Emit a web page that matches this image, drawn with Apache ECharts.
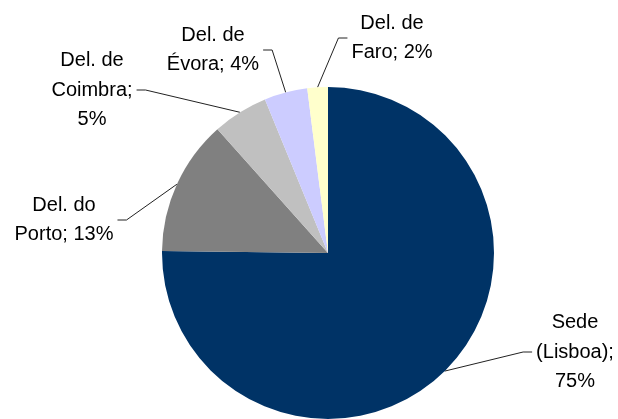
<!DOCTYPE html>
<html>
<head>
<meta charset="utf-8">
<script src="https://cdn.jsdelivr.net/npm/echarts@6/dist/echarts.min.js"></script>
<style>
  html, body { margin: 0; padding: 0; background: #fff; }
  #chart { width: 618px; height: 419px; }
</style>
</head>
<body>
<div id="chart"></div>
<script>
// share of staff per office (percent)
var categories = ['Sede\n(Lisboa)', 'Del. do\nPorto', 'Del. de\nCoimbra', 'Del. de\nÉvora', 'Del. de\nFaro'];
var shares = [75.2, 13.2, 5.4, 4.2, 2.0];
// whether the percentage goes on its own line
var pctOnNewLine = [true, false, true, false, false];

var colors = ['#003366', '#808080', '#c0c0c0', '#ccccff', '#ffffcc'];
// label block centres
var labelCenters = [[575, 352], [64, 220], [92, 90], [213, 50], [392, 38]];

var chart = echarts.init(document.getElementById('chart'));

chart.setOption({
  animation: false,
  backgroundColor: '#fff',
  series: [{
    type: 'pie',
    center: [328, 253],
    radius: 166,
    startAngle: 90,
    clockwise: true,
    silent: true,
    data: categories.map(function (c, i) {
      return { name: c, value: shares[i], itemStyle: { color: colors[i] } };
    }),
    itemStyle: { borderWidth: 0 },
    label: {
      show: true,
      position: 'outside',
      color: '#000',
      fontFamily: 'Liberation Sans, Arial, sans-serif',
      fontSize: 20,
      lineHeight: 29.5,
      align: 'center',
      formatter: function (p) {
        return p.name + ';' + (pctOnNewLine[p.dataIndex] ? '\n' : ' ') + Math.round(p.value) + '%';
      }
    },
    labelLine: {
      show: true,
      lineStyle: { color: '#222', width: 1 }
    },
    labelLayout: function (p) {
      var c = labelCenters[p.dataIndex];
      var w = p.labelRect.width;
      var a = p.labelLinePoints[0];
      var onRight = c[0] < a[0];
      var ex = onRight ? c[0] + w / 2 + 4 : c[0] - w / 2 - 4;
      var bx = onRight ? ex + 9 : ex - 9;
      return {
        x: c[0],
        y: c[1],
        align: 'center',
        verticalAlign: 'middle',
        labelLinePoints: [a, [bx, c[1]], [ex, c[1]]]
      };
    }
  }]
});
</script>
</body>
</html>
